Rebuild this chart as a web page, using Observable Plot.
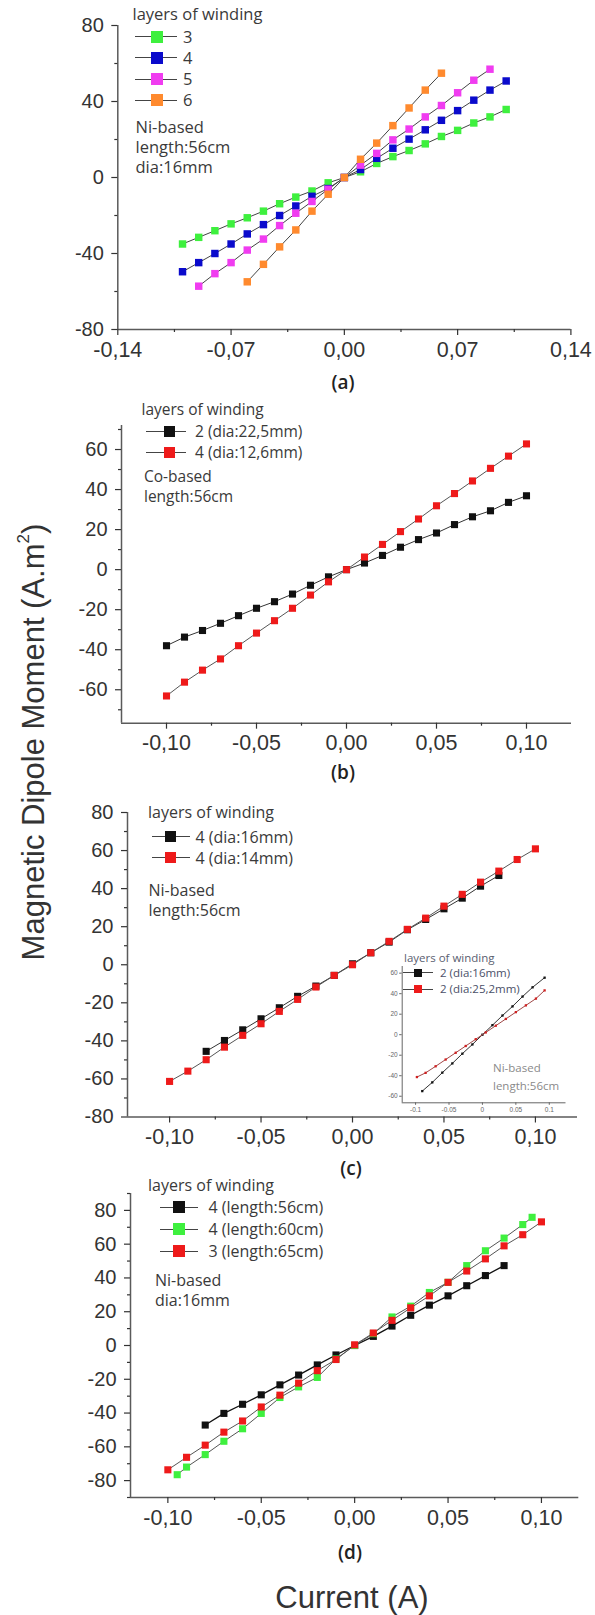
<!DOCTYPE html>
<html><head><meta charset="utf-8">
<script src="https://cdn.jsdelivr.net/npm/d3@7"></script>
<script src="https://cdn.jsdelivr.net/npm/@observablehq/plot@0.6"></script>
<style>
body{margin:0;background:#fff;}
#page{position:relative;width:595px;height:1615px;overflow:hidden;background:#fff;font-family:"Liberation Sans",Arial,sans-serif;}
#page svg{position:absolute;overflow:visible;}
.t{position:absolute;transform:translateY(-50%);white-space:nowrap;line-height:1;}
.c{position:absolute;transform:translate(-50%,-50%);white-space:nowrap;line-height:1;}
.lg{font-family:"Open Sans",sans-serif;color:#3a3a3a;}
.ln{position:absolute;height:1px;background:#444;}
.sq{position:absolute;}
</style></head><body><div id="page"></div>
<script>
// ---------------- DATA ----------------
const xFull = [-0.10,-0.09,-0.08,-0.07,-0.06,-0.05,-0.04,-0.03,-0.02,-0.01,0,0.01,0.02,0.03,0.04,0.05,0.06,0.07,0.08,0.09,0.10];
const x09 = [-0.09,-0.08,-0.07,-0.06,-0.05,-0.04,-0.03,-0.02,-0.01,0,0.01,0.02,0.03,0.04,0.05,0.06,0.07,0.08,0.09];
const x08 = [-0.08,-0.07,-0.06,-0.05,-0.04,-0.03,-0.02,-0.01,0,0.01,0.02,0.03,0.04,0.05,0.06,0.07,0.08];
const x06 = [-0.06,-0.05,-0.04,-0.03,-0.02,-0.01,0,0.01,0.02,0.03,0.04,0.05,0.06];
const x095 = [-0.095,-0.09,-0.08,-0.07,-0.06,-0.05,-0.04,-0.03,-0.02,-0.01,0,0.01,0.02,0.03,0.04,0.05,0.06,0.07,0.08,0.09,0.095];

// (a) Ni-based, length 56cm, dia 16mm
const aLabels = ["3","4","5","6"];
const a3 = [-35,-31.5,-28,-24.4,-21.2,-17.7,-13.8,-10.3,-7.1,-2.8,0,3.0,7.4,11.0,14.2,17.7,21.6,24.8,28.7,31.9,35.8];
const a4 = [-49.6,-44.8,-40.0,-35.0,-29.7,-24.8,-20.0,-15.0,-9.9,-5.8,0,4.2,10.1,15.4,20.2,25.1,30.1,35.2,40.7,46.0,50.8];
const a5 = [-57.2,-50.6,-44.8,-38.2,-32.4,-25.3,-18.8,-12.6,-6.2,0,6.5,12.7,19.8,25.5,31.9,37.9,44.6,51.2,57.0];
const a6 = [-54.9,-45.7,-36.5,-27.6,-17.7,-8.8,0,9.6,18.1,27.3,36.6,46.0,54.9];
const aNotes = ["Ni-based","length:56cm","dia:16mm"];

// (b) Co-based, length 56cm
const bLabels = ["2 (dia:22,5mm)","4 (dia:12,6mm)"];
const b2 = [-38,-33.7,-30.4,-26.8,-23,-19.3,-16,-12.2,-7.8,-3.6,0,3.3,7.1,11.2,15,18.3,22.5,26.4,29.4,33.6,36.9];
const b4 = [-63.1,-56.2,-50.2,-44.6,-38,-31.7,-25.5,-19.3,-12.7,-6.1,0,6.3,12.6,19,25.3,31.9,38,44.3,50.6,56.7,62.8];
const bNotes = ["Co-based","length:56cm"];

// (c) Ni-based, length 56cm
const cLabels = ["4 (dia:16mm)","4 (dia:14mm)"];
const c16 = [-45.5,-39.8,-34.2,-28.4,-22.6,-16.6,-11.2,-5.6,0.5,6.3,11.9,18.4,23.8,29.4,35,41.3,46.9];
const c14 = [-61.3,-55.9,-49.9,-43.3,-37.1,-31,-24.5,-18.2,-11.7,-5.6,0,6.3,12.3,18.6,24.5,30.8,37,43.4,49.2,55.3,60.9];
const cNotes = ["Ni-based","length:56cm"];

// (c) inset
const insetLabels = ["2 (dia:16mm)","2 (dia:25,2mm)"];
const insX16 = [-0.09,-0.075,-0.06,-0.045,-0.03,-0.015,0,0.015,0.03,0.045,0.06,0.075,0.093];
const insY16 = [-55,-46.5,-37,-28,-18.5,-9.5,0,9.3,18.7,27.6,37.2,46.2,55.6];
const insX25 = [-0.098,-0.085,-0.07,-0.055,-0.04,-0.025,-0.01,0.005,0.02,0.035,0.05,0.065,0.08,0.093];
const insY25 = [-41.3,-37.2,-30.8,-24.2,-17.6,-11,-4.4,2.2,8.8,15.4,22,28.6,35.2,43.2];
const insetNotes = ["Ni-based","length:56cm"];

// (d) Ni-based, dia 16mm
const dLabels = ["4 (length:56cm)","4 (length:60cm)","3 (length:65cm)"];
const d56 = [-47.1,-40.2,-34.8,-29.2,-23.3,-17.5,-11.5,-5.6,0,5.4,11.5,17.9,23.9,29.4,35.4,41.4,47.3];
const d60 = [-76.5,-72,-64.6,-56.7,-49.3,-40.2,-30.8,-24.5,-18.9,-8,0,7,16.9,23.3,31.4,37.4,47.3,56.1,63.6,71.6,75.9];
const d65 = [-73.6,-66.2,-59,-51.3,-44.7,-36.4,-29.4,-22.3,-14.9,-8.3,0.4,7.4,14.9,22.3,29.4,37.4,44.1,51.3,59,65.6,73.2];
const dNotes = ["Ni-based","dia:16mm"];

// ticks
const ticksA_x = [-0.14,-0.07,0,0.07,0.14], minorA_x = [-0.105,-0.035,0.035,0.105];
const ticksA_y = [-80,-40,0,40,80], minorA_y = [-60,-20,20,60];
const ticks_x = [-0.10,-0.05,0,0.05,0.10], minor_x = [-0.075,-0.025,0.025,0.075];
const ticksB_y = [-60,-40,-20,0,20,40,60], minorB_y = [-70,-50,-30,-10,10,30,50,70];
const ticksC_y = [-80,-60,-40,-20,0,20,40,60,80], minorC_y = [-70,-50,-30,-10,10,30,50,70];
const ticksD_y = [-80,-60,-40,-20,0,20,40,60,80], minorD_y = [-90,-70,-50,-30,-10,10,30,50,70,90];
const insTicks_x = [-0.1,-0.05,0,0.05,0.1], insTicks_y = [-60,-40,-20,0,20,40,60];

const panelTitles = ["(a)","(b)","(c)","(d)"];
const yTitle = "Magnetic Dipole Moment (A.m";
const xTitle = "Current (A)";

// ---------------- COLOURS ----------------
const GREEN="#3ef03e", BLUE="#0a0acc", MAGENTA="#f03cf0", ORANGE="#ff8a2e", BLACK="#111111", RED="#ee1a1a";

// ---------------- HELPERS ----------------
const page = document.getElementById("page");
const commaFmt = d => (d < 0 ? "-" : "") + Math.abs(d).toFixed(2).replace(".", ",");
const intFmt = d => (d < 0 ? "-" : "") + Math.abs(d);
const zip = (xs, ys) => xs.map((x, i) => ({x, y: ys[i]}));

function panel(o) {
  const mt = 30, mb = 50, W = 595;
  const H = (o.bottom - o.top) + mt + mb;
  const marks = [
    Plot.ruleX([o.xDomain[0]], {stroke: "#5a5a5a", strokeWidth: 1.5}),
    Plot.ruleY([o.yDomain[0]], {stroke: "#5a5a5a", strokeWidth: 1.5}),
    Plot.axisX({ticks: o.xTicks, tickFormat: o.xFmt, tickSize: 6, tickPadding: 6, fontSize: 21.5, label: null, strokeWidth: 1.2}),
    Plot.axisX({ticks: o.xMinor, tickFormat: () => "", tickSize: 3, label: null, strokeWidth: 1.2}),
    Plot.axisY({ticks: o.yTicks, tickFormat: o.yFmt, tickSize: 6, tickPadding: 8, fontSize: 20, label: null, strokeWidth: 1.2}),
    Plot.axisY({ticks: o.yMinor, tickFormat: () => "", tickSize: 3, label: null, strokeWidth: 1.2})
  ];
  for (const s of o.series) {
    const data = zip(s.x, s.y);
    marks.push(Plot.line(data, {x: "x", y: "y", stroke: s.line ?? "#444", strokeWidth: s.lw ?? 1}));
    marks.push(Plot.dot(data, {x: "x", y: "y", symbol: "square", r: o.r ?? 4, fill: s.color, stroke: "none"}));
  }
  const svg = Plot.plot({
    width: W, height: H,
    marginLeft: o.left, marginRight: W - o.right,
    marginTop: mt, marginBottom: mb,
    x: {domain: o.xDomain}, y: {domain: o.yDomain},
    style: {background: "transparent", color: "#333", fontFamily: "'Liberation Sans', Arial, sans-serif", overflow: "visible"},
    marks
  });
  svg.style.left = "0px";
  svg.style.top = (o.top - mt) + "px";
  page.appendChild(svg);
}

function smallPanel(o) {
  const W = o.W, H = o.H;
  const marks = [
    Plot.ruleX([o.xDomain[0]], {stroke: "#666", strokeWidth: 1}),
    Plot.ruleY([o.yDomain[0]], {stroke: "#666", strokeWidth: 1}),
    Plot.axisX({ticks: o.xTicks, tickFormat: o.xFmt, tickSize: 2.5, tickPadding: 2, fontSize: 6.5, label: null}),
    Plot.axisY({ticks: o.yTicks, tickFormat: o.yFmt, tickSize: 2.5, tickPadding: 2, fontSize: 6.5, label: null})
  ];
  for (const s of o.series) {
    const data = zip(s.x, s.y);
    marks.push(Plot.line(data, {x: "x", y: "y", stroke: s.line, strokeWidth: 1}));
    marks.push(Plot.dot(data, {x: "x", y: "y", symbol: "square", r: 1.3, fill: s.color, stroke: "none"}));
  }
  const svg = Plot.plot({
    width: W, height: H,
    marginLeft: o.left - o.ox, marginRight: o.ox + W - o.right,
    marginTop: o.top - o.oy, marginBottom: o.oy + H - o.bottom,
    x: {domain: o.xDomain}, y: {domain: o.yDomain},
    style: {background: "transparent", color: "#666", fontFamily: "'Liberation Sans', Arial, sans-serif", overflow: "visible"},
    marks
  });
  svg.style.left = o.ox + "px";
  svg.style.top = o.oy + "px";
  page.appendChild(svg);
}

function text(txt, x, y, cls, style) {
  const d = document.createElement("div");
  d.className = cls;
  d.textContent = txt;
  d.style.left = x + "px"; d.style.top = y + "px";
  Object.assign(d.style, style || {});
  page.appendChild(d);
  return d;
}

function legend(o) {
  const fs = o.fs + "px";
  text(o.title, o.titleX, o.titleY, "t lg", {fontSize: fs, color: o.titleColor ?? "#3a3a3a"});
  o.labels.forEach((lab, i) => {
    const y = o.rowY[i];
    const ln = document.createElement("div");
    ln.className = "ln";
    Object.assign(ln.style, {left: o.swL + "px", top: (y - 0.5) + "px", width: (o.swR - o.swL) + "px", background: o.lineColor ?? "#444"});
    page.appendChild(ln);
    const sq = document.createElement("div");
    sq.className = "sq";
    Object.assign(sq.style, {left: (o.sqX - o.sq / 2) + "px", top: (y - o.sq / 2) + "px", width: o.sq + "px", height: o.sq + "px", background: o.colors[i]});
    page.appendChild(sq);
    text(lab, o.textX, y, "t lg", {fontSize: fs, color: o.textColor ?? "#3a3a3a"});
  });
  o.notes.forEach((n, i) => text(n, o.notesX, o.notesY[i], "t lg", {fontSize: fs, color: o.notesColor ?? "#3a3a3a"}));
}

// ---------------- PANEL (a) ----------------
panel({top: 25, bottom: 329, left: 117.3, right: 570.4,
  xDomain: [-0.14, 0.14], yDomain: [-80, 80],
  xTicks: ticksA_x, xMinor: minorA_x, yTicks: ticksA_y, yMinor: minorA_y,
  xFmt: commaFmt, yFmt: intFmt, r: 4.2,
  series: [
    {x: xFull, y: a3, color: GREEN},
    {x: xFull, y: a4, color: BLUE},
    {x: x09, y: a5, color: MAGENTA},
    {x: x06, y: a6, color: ORANGE}
  ]});
legend({fs: 16.5, title: "layers of winding", titleX: 132.5, titleY: 14,
  labels: aLabels, rowY: [36.5, 57.5, 79, 100], colors: [GREEN, BLUE, MAGENTA, ORANGE],
  swL: 135, swR: 177, sqX: 156.5, sq: 12, textX: 183,
  notes: aNotes, notesX: 135.5, notesY: [127, 147, 167]});

// ---------------- PANEL (b) ----------------
panel({top: 425, bottom: 722.7, left: 121, right: 571,
  xDomain: [-0.125, 0.125], yDomain: [-76.7, 72],
  xTicks: ticks_x, xMinor: minor_x, yTicks: ticksB_y, yMinor: minorB_y,
  xFmt: commaFmt, yFmt: intFmt, r: 4,
  series: [
    {x: xFull, y: b2, color: BLACK, line: "#333"},
    {x: xFull, y: b4, color: RED, line: "#555"}
  ]});
legend({fs: 15.5, title: "layers of winding", titleX: 141.5, titleY: 410,
  labels: bLabels, rowY: [431.5, 452.5], colors: [BLACK, RED],
  swL: 146, swR: 186, sqX: 169.5, sq: 11, textX: 195,
  notes: bNotes, notesX: 144, notesY: [476.5, 497]});

// ---------------- PANEL (c) ----------------
panel({top: 812, bottom: 1116.5, left: 127, right: 577,
  xDomain: [-0.123, 0.123], yDomain: [-80, 80],
  xTicks: ticks_x, xMinor: minor_x, yTicks: ticksC_y, yMinor: minorC_y,
  xFmt: commaFmt, yFmt: intFmt, r: 4,
  series: [
    {x: x08, y: c16, color: BLACK, line: "#333"},
    {x: xFull, y: c14, color: RED, line: "#555"}
  ]});
legend({fs: 16, title: "layers of winding", titleX: 148, titleY: 812,
  labels: cLabels, rowY: [836.5, 857.5], colors: [BLACK, RED],
  swL: 151.5, swR: 190, sqX: 170, sq: 11, textX: 195.5,
  notes: cNotes, notesX: 148.5, notesY: [890, 909.5]});

// inset
smallPanel({ox: 370, oy: 945, W: 205, H: 175,
  left: 401.7, right: 565.5, top: 966, bottom: 1102.3,
  xDomain: [-0.12, 0.125], yDomain: [-66.4, 66.5],
  xTicks: insTicks_x, yTicks: insTicks_y,
  xFmt: d => String(d), yFmt: d => String(d),
  series: [
    {x: insX16, y: insY16, color: "#111", line: "#333"},
    {x: insX25, y: insY25, color: "#d02020", line: "#a04848"}
  ]});
legend({fs: 11.5, title: "layers of winding", titleX: 404, titleY: 957.5, titleColor: "#5a6070",
  labels: insetLabels, rowY: [972.7, 989.3], colors: ["#111", "#ee1a1a"],
  swL: 403, swR: 433, sqX: 418, sq: 8, textX: 440, textColor: "#4a5068",
  notes: insetNotes, notesX: 493, notesY: [1068.3, 1085.7], notesColor: "#8a8a8a"});

// ---------------- PANEL (d) ----------------
panel({top: 1192.7, bottom: 1496.7, left: 130, right: 578.3,
  xDomain: [-0.12, 0.12], yDomain: [-90, 90],
  xTicks: ticks_x, xMinor: minor_x, yTicks: ticksD_y, yMinor: minorD_y,
  xFmt: commaFmt, yFmt: intFmt, r: 4,
  series: [
    {x: x08, y: d56, color: BLACK, line: "#111", lw: 1.3},
    {x: x095, y: d60, color: GREEN, line: "#555"},
    {x: xFull, y: d65, color: RED, line: "#555"}
  ]});
legend({fs: 16, title: "layers of winding", titleX: 148, titleY: 1184.5,
  labels: dLabels, rowY: [1207, 1229, 1251], colors: [BLACK, GREEN, RED],
  swL: 159.5, swR: 197.5, sqX: 179, sq: 12, textX: 208.5,
  notes: dNotes, notesX: 155, notesY: [1280, 1300]});

// ---------------- TITLES ----------------
const ptPos = [[343, 382], [343, 772], [351, 1168], [350, 1552]];
panelTitles.forEach((t, i) => text(t, ptPos[i][0], ptPos[i][1], "c", {fontFamily: "'Open Sans', sans-serif", fontWeight: "600", fontSize: "19px", color: "#222"}));

const yl = document.createElement("div");
yl.innerHTML = yTitle + "<sup style='font-size:0.55em;vertical-align:0.9em'>2</sup>)";
Object.assign(yl.style, {position: "absolute", left: "32px", top: "742px", transform: "translate(-50%,-50%) rotate(-90deg)", whiteSpace: "nowrap", fontSize: "31px", lineHeight: "1", color: "#333", fontFamily: "'Liberation Sans', Arial, sans-serif"});
page.appendChild(yl);

text(xTitle, 352, 1597, "c", {fontSize: "31px", color: "#333"});
</script>
</body></html>
